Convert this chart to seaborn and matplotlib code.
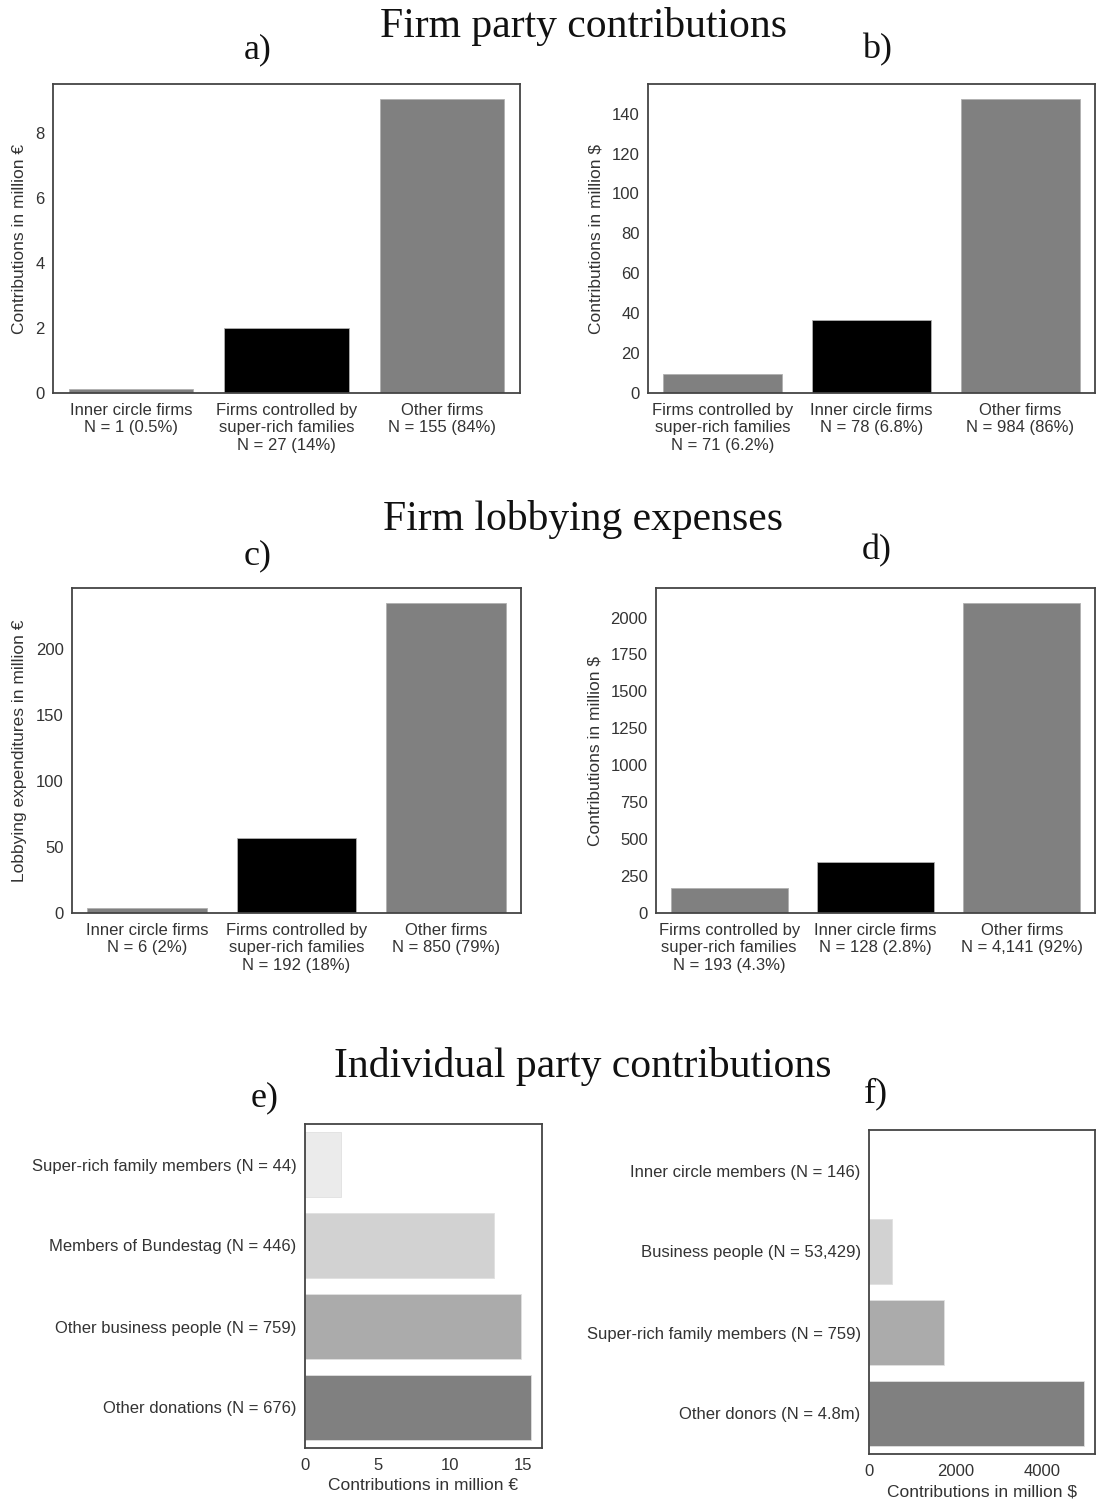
import matplotlib
matplotlib.use("Agg")
import matplotlib.pyplot as plt
import seaborn as sns
import pandas as pd
from matplotlib.ticker import MultipleLocator

sns.set_style("white")
plt.rcParams['font.family'] = ['Liberation Sans', 'DejaVu Sans']

# ---------------- data ----------------
a_labels = ["Inner circle firms\nN = 1 (0.5%)",
            "Firms controlled by\nsuper-rich families\nN = 27 (14%)",
            "Other firms\nN = 155 (84%)"]
a_values = [0.12, 2.0, 9.05]
a_colors = ["#808080", "#000000", "#808080"]

b_labels = ["Firms controlled by\nsuper-rich families\nN = 71 (6.2%)",
            "Inner circle firms\nN = 78 (6.8%)",
            "Other firms\nN = 984 (86%)"]
b_values = [9.5, 36.6, 147.5]
b_colors = ["#808080", "#000000", "#808080"]

c_labels = ["Inner circle firms\nN = 6 (2%)",
            "Firms controlled by\nsuper-rich families\nN = 192 (18%)",
            "Other firms\nN = 850 (79%)"]
c_values = [4.1, 56.6, 234.8]
c_colors = ["#808080", "#000000", "#808080"]

d_labels = ["Firms controlled by\nsuper-rich families\nN = 193 (4.3%)",
            "Inner circle firms\nN = 128 (2.8%)",
            "Other firms\nN = 4,141 (92%)"]
d_values = [166, 346, 2095]
d_colors = ["#808080", "#000000", "#808080"]

e_labels = ["Super-rich family members (N = 44)",
            "Members of Bundestag (N = 446)",
            "Other business people (N = 759)",
            "Other donations (N = 676)"]
e_values = [2.46, 12.98, 14.85, 15.54]
e_colors = ["#ebebeb", "#d2d2d2", "#ababab", "#808080"]

f_labels = ["Inner circle members (N = 146)",
            "Business people (N = 53,429)",
            "Super-rich family members (N = 759)",
            "Other donors (N = 4.8m)"]
f_values = [5, 528, 1748, 4984]
f_colors = ["#ebebeb", "#d2d2d2", "#ababab", "#808080"]

# ---------------- figure ----------------
W, H = 1097, 1499
fig = plt.figure(figsize=(W / 100, H / 100), dpi=100)


def box(x0, y0, x1, y1):
    return [x0 / W, 1 - y1 / H, (x1 - x0) / W, (y1 - y0) / H]


TXT = "#333333"


def style(ax):
    for s in ax.spines.values():
        s.set_color("#444444")
        s.set_linewidth(1.3)
    ax.tick_params(labelsize=12, colors=TXT, length=0)
    ax.tick_params(axis="x", pad=7)
    ax.tick_params(axis="y", pad=6)


def vbar(rect, labels, values, colors, ylabel, step):
    ax = fig.add_axes(rect)
    df = pd.DataFrame({"group": labels, "value": values})
    sns.barplot(data=df, x="group", y="value", hue="group",
                palette=dict(zip(labels, colors)), saturation=1,
                width=0.8, legend=False, ax=ax,
                edgecolor="#b0b0b0", linewidth=0.6)
    ax.set_xlabel("")
    ax.set_ylabel(ylabel, fontsize=12.5, color=TXT, labelpad=6)
    ax.yaxis.set_major_locator(MultipleLocator(step))
    style(ax)
    return ax


def hbar(rect, labels, values, colors, xlabel, step):
    ax = fig.add_axes(rect)
    df = pd.DataFrame({"group": labels, "value": values})
    sns.barplot(data=df, y="group", x="value", hue="group", orient="h",
                palette=dict(zip(labels, colors)), saturation=1,
                width=0.8, legend=False, ax=ax,
                edgecolor="#e0e0e0", linewidth=0.6)
    ax.set_ylabel("")
    ax.set_xlabel(xlabel, fontsize=12.5, color=TXT, labelpad=4)
    ax.xaxis.set_major_locator(MultipleLocator(step))
    style(ax)
    return ax


vbar(box(53, 84, 520, 393), a_labels, a_values, a_colors,
     "Contributions in million €", 2)
vbar(box(648, 84, 1095, 393), b_labels, b_values, b_colors,
     "Contributions in million $", 20)
vbar(box(72, 588, 521, 913), c_labels, c_values, c_colors,
     "Lobbying expenditures in million €", 50)
vbar(box(656, 588, 1095, 913), d_labels, d_values, d_colors,
     "Contributions in million $", 250)
hbar(box(305, 1124, 542, 1448), e_labels, e_values, e_colors,
     "Contributions in million €", 5)
hbar(box(869, 1130, 1095, 1454), f_labels, f_values, f_colors,
     "Contributions in million $", 2000)

SERIF = ["Liberation Serif", "DejaVu Serif"]


def ftext(x, y, s, size):
    fig.text(x / W, 1 - y / H, s, ha="center", va="center",
             family=SERIF, fontsize=size, color="#111111")


ftext(583, 26, "Firm party contributions", 30)
ftext(583, 520, "Firm lobbying expenses", 30)
ftext(583, 1066, "Individual party contributions", 30)
ftext(258, 50, "a)", 26)
ftext(877, 50, "b)", 26)
ftext(258, 556, "c)", 26)
ftext(877, 551, "d)", 26)
ftext(265, 1098, "e)", 26)
ftext(876, 1094, "f)", 26)

fig.savefig("out.png", dpi=100)
